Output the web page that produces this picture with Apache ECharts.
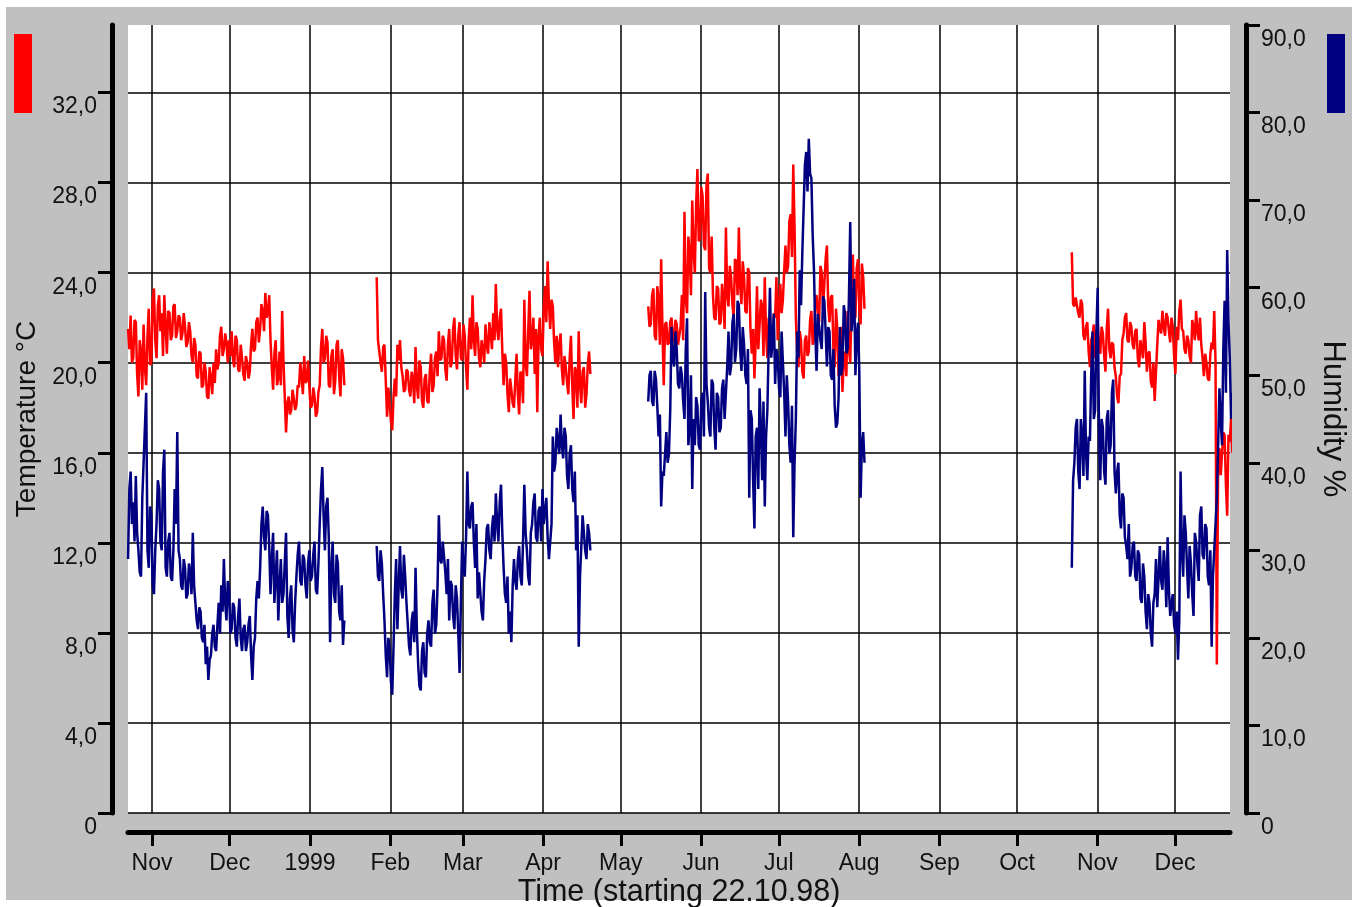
<!DOCTYPE html>
<html>
<head>
<meta charset="utf-8">
<script src="https://cdn.jsdelivr.net/npm/echarts@6/dist/echarts.min.js"></script>
<style>
html, body { margin: 0; padding: 0; background: #fff; }
#chart { width: 1358px; height: 907px; }
</style>
</head>
<body>
<div id="chart"></div>
<script>
// readings: one value at each segment day (A) and one half a day later (B)
const segStarts = [
    [1998, 9, 22, 18],
    [1999, 0, 26, 18],
    [1999, 4, 11, 14],
    [1999, 9, 22, 3]
];

const tempSeg1A = [21.5,22.1,20.2,21.8,18.5,20.5,21.7,19.0,22.4,20.0,
    23.3,20.2,23.0,22.2,23.0,20.4,22.2,21.2,22.6,21.4,
    22.0,21.3,21.6,20.9,21.4,20.0,20.8,19.3,20.4,19.0,
    19.6,18.4,19.3,20.0,20.6,20.0,21.6,20.6,20.9,21.0,
    21.4,19.8,21.0,19.6,20.2,19.2,20.0,19.6,21.5,20.6,
    22.0,21.5,22.3,23.1,22.2,21.0,18.8,21.0,19.3,19.0,
    20.1,16.9,18.5,17.9,18.4,18.1,18.9,19.4,20.3,19.2,
    18.9,18.1,18.5,17.8,19.0,21.5,20.2,20.9,18.9,20.6,
    19.2,21.0,18.5,20.2];
const tempSeg1B = [20.6,20.0,21.9,19.5,21.0,18.8,19.8,21.2,19.9,22.8,
    21.0,22.5,21.4,20.3,21.6,22.3,21.0,22.5,21.1,22.1,
    21.0,22.2,20.7,21.8,20.3,21.1,19.4,20.5,18.9,20.0,
    18.5,19.8,18.6,19.1,19.7,21.2,20.3,21.3,20.0,20.3,
    20.2,21.2,19.7,20.8,19.5,20.3,19.3,20.8,20.5,21.8,
    20.9,22.6,21.4,22.0,23.0,19.8,20.4,19.0,20.5,22.3,
    18.5,18.2,17.7,18.8,17.9,19.0,20.0,18.6,19.1,20.1,
    18.0,18.9,17.6,18.7,20.7,20.0,21.2,19.0,20.3,18.6,
    20.8,19.4,20.6,19.0];
const tempSeg2A = [23.8,20.5,19.6,20.8,17.6,18.2,17.0,19.3,20.8,21.0,
    19.4,18.8,19.6,18.5,19.3,20.7,18.4,19.8,18.0,19.5,
    18.2,20.4,19.0,20.5,21.4,20.2,21.0,19.2,21.5,20.0,
    22.0,19.7,21.8,20.1,21.2,18.8,22.0,23.0,20.3,21.5,
    19.8,20.6,21.7,20.4,21.3,22.2,23.5,21.0,22.4,19.0,
    20.0,17.8,18.8,18.0,20.4,17.7,19.5,22.8,19.4,23.2,
    21.0,19.5,17.8,22.0,20.3,23.4,24.5,21.5,22.5,20.0,
    19.8,21.3,19.0,19.8,18.6,21.2,17.5,19.6,21.4,18.2,
    19.8,18.6,20.5];
const tempSeg2B = [21.0,20.0,20.7,19.2,18.9,17.4,18.5,18.5,20.1,19.8,
    18.7,19.7,18.8,19.6,18.2,19.0,20.1,18.3,19.3,18.3,
    19.6,18.7,20.2,19.4,20.1,21.2,19.7,20.8,19.8,21.5,
    20.3,21.2,20.2,21.7,19.8,21.0,20.6,21.0,21.8,20.2,
    21.0,20.0,20.8,21.8,20.6,21.0,21.5,22.0,20.5,20.4,
    18.6,19.3,18.2,19.2,18.6,19.6,18.2,20.0,21.4,20.6,
    22.0,21.5,21.2,20.6,22.4,21.8,22.6,22.8,20.9,21.2,
    20.8,19.7,20.3,19.1,20.2,19.0,19.8,18.0,19.0,19.6,
    18.0,19.9,19.5];
const tempSeg3A = [22.5,21.7,23.3,21.0,22.8,24.6,19.0,21.8,20.9,22.0,
    21.1,21.7,20.8,23.0,26.7,22.2,24.9,27.2,24.0,28.6,
    25.5,27.4,25.0,28.4,24.0,23.0,21.9,23.3,21.8,22.8,
    26.0,22.5,23.8,22.0,24.5,26.0,22.6,23.8,22.2,24.0,
    20.4,19.3,23.4,20.6,22.5,23.8,20.2,21.6,20.7,22.0,
    21.0,23.5,22.8,25.2,24.3,26.6,28.8,22.0,19.8,21.0,
    19.3,21.2,20.5,22.3,21.0,23.0,21.8,24.0,22.4,25.2,
    21.8,23.0,19.8,21.5,19.5,18.7,20.5,22.3,20.0,24.8,
    22.0,24.6,21.7,23.8];
const tempSeg3B = [21.6,23.0,21.2,23.4,20.8,21.5,21.7,20.8,21.8,20.9,
    21.9,20.8,21.6,21.0,22.8,25.6,23.0,25.0,27.0,25.4,
    27.8,25.2,27.9,24.2,25.6,22.0,23.4,21.7,23.5,21.5,
    23.0,24.3,22.6,24.6,23.0,23.4,24.5,22.3,24.2,21.4,
    21.5,21.0,20.6,22.8,20.3,21.3,22.0,20.4,22.2,23.8,
    22.4,22.2,24.1,24.0,26.3,24.7,26.0,20.5,21.4,19.6,
    21.0,20.3,21.9,20.8,22.8,22.2,24.3,22.4,24.6,22.5,
    22.9,20.6,22.4,19.4,21.6,20.2,19.4,20.6,22.6,22.3,
    24.2,22.4,24.4,22.4];
const tempSeg4A = [24.9,22.5,22.9,22.0,22.6,21.0,21.8,19.8,21.2,20.2,
    21.8,20.4,21.3,19.6,22.4,20.2,20.8,19.4,18.2,19.5,
    21.3,22.2,20.9,21.6,20.6,21.5,19.8,21.0,21.8,19.6,
    20.5,18.9,18.3,20.8,21.5,22.3,21.2,22.0,20.9,21.6,
    19.5,21.0,22.8,21.4,20.4,21.0,20.0,21.6,22.3,21.0,
    20.8,19.4,20.0,19.2,20.9,22.3,6.6,16.2,15.0,16.8,
    13.2,16.5,16.0];
const tempSeg4B = [22.6,22.9,22.2,22.8,21.2,21.6,20.5,21.0,21.7,21.2,
    20.6,21.6,20.3,21.5,20.6,20.9,19.8,18.5,19.4,21.0,
    22.0,21.0,21.8,20.8,21.4,20.2,21.0,20.2,20.9,20.4,
    19.2,20.0,19.6,21.9,21.3,21.6,22.2,21.4,22.0,20.3,
    21.6,22.3,21.5,20.6,21.2,20.3,21.9,21.0,21.4,22.0,
    20.2,20.4,19.3,20.4,20.6,20.0,15.8,15.0,16.9,14.6,
    16.8,17.5,16.8];

const humSeg1A = [29,39,35.5,38.5,30,27,40,48,28,34,
    25,33,37,30,41.5,27,32,26.5,37,43.5,
    29,25.5,28,25,27.5,32,24,21,23,19.5,
    17,15.2,18,21.5,18.5,24,26,29,22,25.5,
    21,23.5,19,24.5,18.5,21.5,19.5,22.5,15.2,20,
    26.5,28,35,30,34,25,32,27,22,29,
    25,32,20,26,19.5,27,31,26,29,24.5,
    30,27,31,25,33,39.5,30,36,19.5,31,
    24,28.5,22,19.2];
const humSeg1B = [37,33,31,32,27.5,36,44,30,35,26,
    30,38,31,39,28,31,27,30,33,30,
    26,29,24.5,28.5,25,26,22,23.5,20,21.5,
    19,17.5,20.5,19,21.5,20.5,23,24,26.5,20.5,
    24,20,22.5,20,21,18.5,21.5,18,19,24.5,
    24.5,33,31.5,34.5,30.5,29,24,30,26,24,
    28.5,22.5,24.5,21,24,29.5,26.5,29.5,26,28.5,
    26.5,29.5,25.5,28.5,37,34,35,31.5,28,25,
    29.5,23,26,22];
const humSeg2A = [30.5,26.5,28.5,22,15.5,19,13.5,25,21,30.5,
    24.5,27,21.5,18,23,28,17,14,19.5,15.5,
    22,19,25.5,21.5,34,28.5,31,25,22,26,
    21,24.5,16,31,27,39,32.5,35.5,28,24.5,
    27.5,22,29,33,29,34,36.5,31,37.5,28,
    24,20.5,19.5,29,25.5,30.5,26,37.5,30,26,
    33,36.5,31,35,37,33,31.5,29,43,40,
    44,45.5,40.5,43,37,42,35.5,30,19,30.5,
    34,29,32];
const humSeg2B = [27,30,25,18,20,15,19,29,26,25.5,
    29.5,24,19,22,19.5,21,14.5,18.5,16,20.5,
    19.5,24,20.5,26,29,31,27.5,29,26.5,22.5,
    26,20.5,24,28,31.5,33,35,31,33,27.5,
    23,26.5,32.5,30,32.5,31,33,35.5,32,25,
    27,23,26,26.5,29,27,31,32,27,32,
    35.5,31.5,34.5,31,33,36,29,33,39,44,
    41,42,44,38.5,41,37,39,34,27,34,
    30,33,30];
const humSeg3A = [47,50.5,46.5,49.5,43,35,38.5,43.5,41,55.5,
    51,53,48.5,50,45,56.5,44,37,42,46.5,
    41.5,48,59.5,47,43,49,41.5,47.5,44,49.5,
    45,55,51,57,53,58,50.5,53.5,49,36,
    45,32.5,44,48.5,38,35,46,60,54,49,
    52,47.5,51.5,43,47,40,31.5,45,52,58,
    69,75.5,77,72.5,62,50.5,57,53,58.5,51,
    55,49.5,46.5,44.5,55.5,51,57,53,67.5,57,
    50,56,36,43.5];
const humSeg3B = [50,47,50.5,46.5,45.5,39,41,40,46,52,
    55,49,51,47,53,42,50,45,47.5,42,
    47,43,49,44,49.5,44,48,43.5,48.5,45,
    51,50,56,51.5,58.5,53,55.5,50,53,46,
    38,43,37,44,47,43,53,52,57,53,
    48.5,55,48,50,42,46.5,40,55,62,64,
    74,71,73,66,55,57,54,59,55,55.5,
    50,53,44,47.5,50,58,52.5,59,55,61,
    54.5,50.5,42,40];
const humSeg4A = [28,40,45,37,43,50.5,38,42.5,55,46,
    60,38,44,37.5,46,42,49.5,36.5,40,32.5,
    36,30.5,33,28,31,26.5,29.5,24,27,21,
    24,19,25,23.5,30.5,25.5,28,31.5,22.5,25,
    20.5,17.5,39,27,32,24.5,28.5,22.5,31,26.5,
    35,29,32.5,26,19,30,36,48.5,42,58.5,
    64.3,52,48];
const humSeg4B = [38,44,39,45,38.5,41,43,50,45,55,
    44,45,39,45,41,48,39,39,34,36.5,
    31.5,29,27,30.5,27,30,24.5,28.5,23,25,
    20.5,24,29,27,26.5,30,23.5,25.5,24,21.5,
    23,22,30,34,28,30.5,25,32,28.5,34,
    29.5,33,27,30,27,33,42,45,53,48,
    56,45,46];

const tickMonths = [[1998,10],[1998,11],[1999,0],[1999,1],[1999,2],[1999,3],[1999,4],
    [1999,5],[1999,6],[1999,7],[1999,8],[1999,9],[1999,10],[1999,11]];
const monthNames = ['Jan','Feb','Mar','Apr','May','Jun','Jul','Aug','Sep','Oct','Nov','Dec'];
const tempTicks = [0, 4, 8, 12, 16, 20, 24, 28, 32];

const DAY = 86400000;
const FONT = 'Liberation Sans, Arial, Helvetica, sans-serif';

function toSeries(segs) {
    let out = [];
    segs.forEach((pair, k) => {
        const s = segStarts[k];
        const t0 = new Date(s[0], s[1], s[2], s[3]).getTime();
        const a = pair[0], b = pair[1];
        a.forEach((v, i) => {
            out.push([t0 + i * DAY, v]);
            out.push([t0 + i * DAY + DAY / 2, b[i]]);
        });
        out.push([t0 + a.length * DAY, null]);
    });
    return out;
}

const tempData = toSeries([[tempSeg1A, tempSeg1B], [tempSeg2A, tempSeg2B],
    [tempSeg3A, tempSeg3B], [tempSeg4A, tempSeg4B]]);
const humData = toSeries([[humSeg1A, humSeg1B], [humSeg2A, humSeg2B],
    [humSeg3A, humSeg3B], [humSeg4A, humSeg4B]]);
const monthTicks = tickMonths.map(m => new Date(m[0], m[1], 1).getTime());

function fmtNum(v) {
    return v === 0 ? '0' : v.toFixed(1).replace('.', ',');
}

const chart = echarts.init(document.getElementById('chart'));
chart.setOption({
    animation: false,
    backgroundColor: '#fff',
    graphic: [{
        type: 'rect', left: 6, top: 7, z: -10, silent: true,
        shape: { width: 1346, height: 893 },
        style: { fill: '#c0c0c0' }
    }],
    legend: [
        { data: ['Temperature'], left: 14, top: 34, padding: 0, icon: 'rect',
          itemWidth: 18, itemHeight: 79, formatter: () => '', selectedMode: false },
        { data: ['Humidity'], left: 1327, top: 34, padding: 0, icon: 'rect',
          itemWidth: 18, itemHeight: 79, formatter: () => '', selectedMode: false }
    ],
    grid: {
        left: 128, right: 128, top: 25, bottom: 94,
        outerBoundsMode: 'none', containLabel: false,
        show: true, backgroundColor: '#fff', borderWidth: 0
    },
    xAxis: {
        type: 'value',
        min: new Date(1998, 9, 22, 17, 30).getTime(),
        max: new Date(1999, 11, 22, 5).getTime(),
        offset: 19,
        name: 'Time (starting 22.10.98)',
        nameLocation: 'middle',
        nameGap: 45,
        nameMoveOverlap: false,
        nameTextStyle: { fontSize: 30.5, color: '#111', fontFamily: FONT },
        axisLine: { show: true, onZero: false, lineStyle: { color: '#000', width: 5 } },
        axisTick: { show: true, length: 14, customValues: monthTicks,
            lineStyle: { color: '#000', width: 3 } },
        axisLabel: {
            customValues: monthTicks,
            margin: 20, fontSize: 23, color: '#111', fontFamily: FONT,
            formatter: v => {
                const d = new Date(v);
                return d.getMonth() === 0 ? String(d.getFullYear()) : monthNames[d.getMonth()];
            }
        },
        splitLine: { show: true, lineStyle: { color: '#000', width: 1.5 } }
    },
    yAxis: [{
        type: 'value', min: 0, max: 35, position: 'left', offset: 16,
        name: 'Temperature °C', nameLocation: 'middle', nameGap: 63, nameRotate: 90,
        nameTextStyle: { fontSize: 28, color: '#111', fontFamily: FONT },
        axisLine: { show: true, onZero: false, lineStyle: { color: '#000', width: 5 } },
        axisTick: { show: true, length: 14, customValues: tempTicks,
            lineStyle: { color: '#000', width: 3 } },
        axisLabel: { customValues: tempTicks, formatter: fmtNum, margin: 15,
            verticalAlign: 'top', padding: [3, 0, 0, 0],
            fontSize: 23, color: '#111', fontFamily: FONT },
        splitLine: { show: true, lineStyle: { color: '#000', width: 1.5 } }
    }, {
        type: 'value', min: 0, max: 90, interval: 10, position: 'right', offset: 16,
        name: 'Humidity %', nameLocation: 'middle', nameGap: 63, nameRotate: -90,
        nameTextStyle: { fontSize: 31, color: '#111', fontFamily: FONT },
        axisLine: { show: true, onZero: false, lineStyle: { color: '#000', width: 5 } },
        axisTick: { show: true, length: 14, lineStyle: { color: '#000', width: 3 } },
        axisLabel: { formatter: fmtNum, margin: 15,
            verticalAlign: 'top', padding: [3, 0, 0, 0],
            fontSize: 23, color: '#111', fontFamily: FONT },
        splitLine: { show: false }
    }],
    series: [{
        name: 'Temperature', type: 'line', yAxisIndex: 0,
        data: tempData, showSymbol: false, connectNulls: false,
        color: '#ff0000', lineStyle: { color: '#ff0000', width: 2.5 }
    }, {
        name: 'Humidity', type: 'line', yAxisIndex: 1,
        data: humData, showSymbol: false, connectNulls: false,
        color: '#000080', lineStyle: { color: '#000080', width: 2.5 }
    }]
});
</script>
</body>
</html>
